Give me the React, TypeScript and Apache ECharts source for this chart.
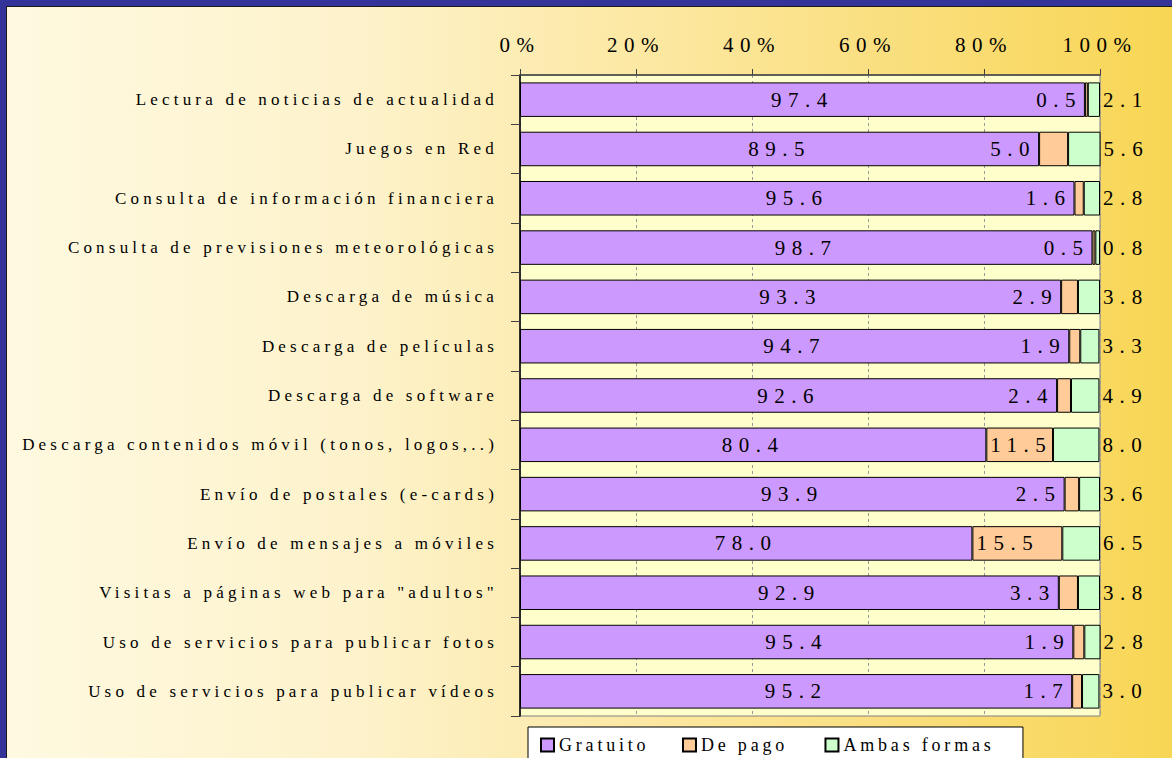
import React, { useEffect, useRef } from "react";
import * as echarts from "echarts";

const categories = [
  "Lectura de noticias de actualidad",
  "Juegos en Red",
  "Consulta de información financiera",
  "Consulta de previsiones meteorológicas",
  "Descarga de música",
  "Descarga de películas",
  "Descarga de software",
  "Descarga contenidos móvil (tonos, logos,..)",
  "Envío de postales (e-cards)",
  "Envío de mensajes a móviles",
  'Visitas a páginas web para "adultos"',
  "Uso de servicios para publicar fotos",
  "Uso de servicios para publicar vídeos",
];

const gratuito = [97.4, 89.5, 95.6, 98.7, 93.3, 94.7, 92.6, 80.4, 93.9, 78.0, 92.9, 95.4, 95.2];
const dePago = [0.5, 5.0, 1.6, 0.5, 2.9, 1.9, 2.4, 11.5, 2.5, 15.5, 3.3, 1.9, 1.7];
const ambas = [2.1, 5.6, 2.8, 0.8, 3.8, 3.3, 4.9, 8.0, 3.6, 6.5, 3.8, 2.8, 3.0];

const seriesNames = ["Gratuito", "De pago", "Ambas formas"];
const seriesColors = ["#CC99FF", "#FFCC99", "#CCFFCC"];

const FONT = '"Liberation Serif", "Times New Roman", serif';

export default function App() {
  const ref = useRef<HTMLDivElement>(null);

  useEffect(() => {
    const chart = echarts.init(ref.current as HTMLDivElement, null, { renderer: "svg" });
    const fmt = (p: any) => Number(p.value).toFixed(1);
    const labelBase = { show: true, color: "#000", fontSize: 21, fontFamily: FONT, formatter: fmt };
    const itemStyle = (c: string) => ({ color: c, borderColor: "#000", borderWidth: 1 });

    chart.setOption({
      animation: false,
      backgroundColor: "transparent",
      textStyle: { fontFamily: FONT },
      grid: {
        left: 513,
        right: 72,
        top: 68,
        bottom: 42,
        show: true,
        backgroundColor: "#FFFFCC",
        borderColor: "#808080",
        borderWidth: 1,
      },
      xAxis: {
        type: "value",
        position: "top",
        min: 0,
        max: 100,
        interval: 20,
        axisLine: { show: true, lineStyle: { color: "#404040", width: 1.5 } },
        axisTick: { show: true, length: 6, lineStyle: { color: "#404040" } },
        axisLabel: { formatter: "{value}%", fontSize: 21, color: "#000", margin: 20, fontFamily: FONT },
        splitLine: { show: true, lineStyle: { color: "#999999", type: [3, 3], width: 1 } },
      },
      yAxis: {
        type: "category",
        data: categories,
        inverse: true,
        axisLine: { show: true, lineStyle: { color: "#000", width: 1.5 } },
        axisTick: { show: true, length: 9, lineStyle: { color: "#404040" } },
        axisLabel: { fontSize: 17, color: "#000", margin: 22, interval: 0, fontFamily: FONT },
        splitLine: { show: false },
      },
      legend: {
        left: 521,
        top: 720,
        orient: "horizontal",
        icon: "rect",
        itemWidth: 13,
        itemHeight: 13,
        itemGap: 63,
        padding: [9, 74, 9, 12],
        backgroundColor: "#FFFFFF",
        borderColor: "#000",
        borderWidth: 1,
        borderRadius: 0,
        textStyle: { fontSize: 18, color: "#000", fontFamily: FONT },
        data: seriesNames,
      },
      series: [
        {
          name: seriesNames[0],
          type: "bar",
          stack: "total",
          barWidth: "70%",
          itemStyle: itemStyle(seriesColors[0]),
          label: { ...labelBase, position: "inside" },
          data: gratuito,
        },
        {
          name: seriesNames[1],
          type: "bar",
          stack: "total",
          barWidth: "70%",
          itemStyle: itemStyle(seriesColors[1]),
          label: { ...labelBase, position: "left", distance: 3 },
          data: dePago.map((v) => ({
            value: v,
            label: v > 10 ? { position: "insideLeft", distance: 4 } : { position: "left", distance: 3 },
          })),
        },
        {
          name: seriesNames[2],
          type: "bar",
          stack: "total",
          barWidth: "70%",
          itemStyle: itemStyle(seriesColors[2]),
          label: { ...labelBase, position: "right", distance: 3 },
          data: ambas,
        },
      ],
    });
    return () => chart.dispose();
  }, []);

  return (
    <div
      style={{
        position: "fixed",
        left: 0,
        top: 0,
        width: 1172,
        height: 758,
        background: "#333399",
        overflow: "hidden",
      }}
    >
      <style>{`
        .chartbox text { letter-spacing: 4.2px; }
        .chartbox text[style*="21px"] { letter-spacing: 6.5px; }
        .chartbox text[style*="18px"] { letter-spacing: 3.8px; }
      `}</style>
      <div
        style={{
          position: "absolute",
          left: 6,
          top: 6,
          width: 1166,
          height: 752,
          borderLeft: "1px solid #1a1a1a",
          borderTop: "1px solid #1a1a1a",
          boxSizing: "border-box",
        }}
      >
        <div
          ref={ref}
          className="chartbox"
          style={{
            width: 1165,
            height: 751,
            background:
              "linear-gradient(to right, #FEF9E0 0%, #FDF2CB 30%, #FCE8A2 55%, #FADF80 75%, #F8D654 100%)",
          }}
        />
      </div>
    </div>
  );
}
